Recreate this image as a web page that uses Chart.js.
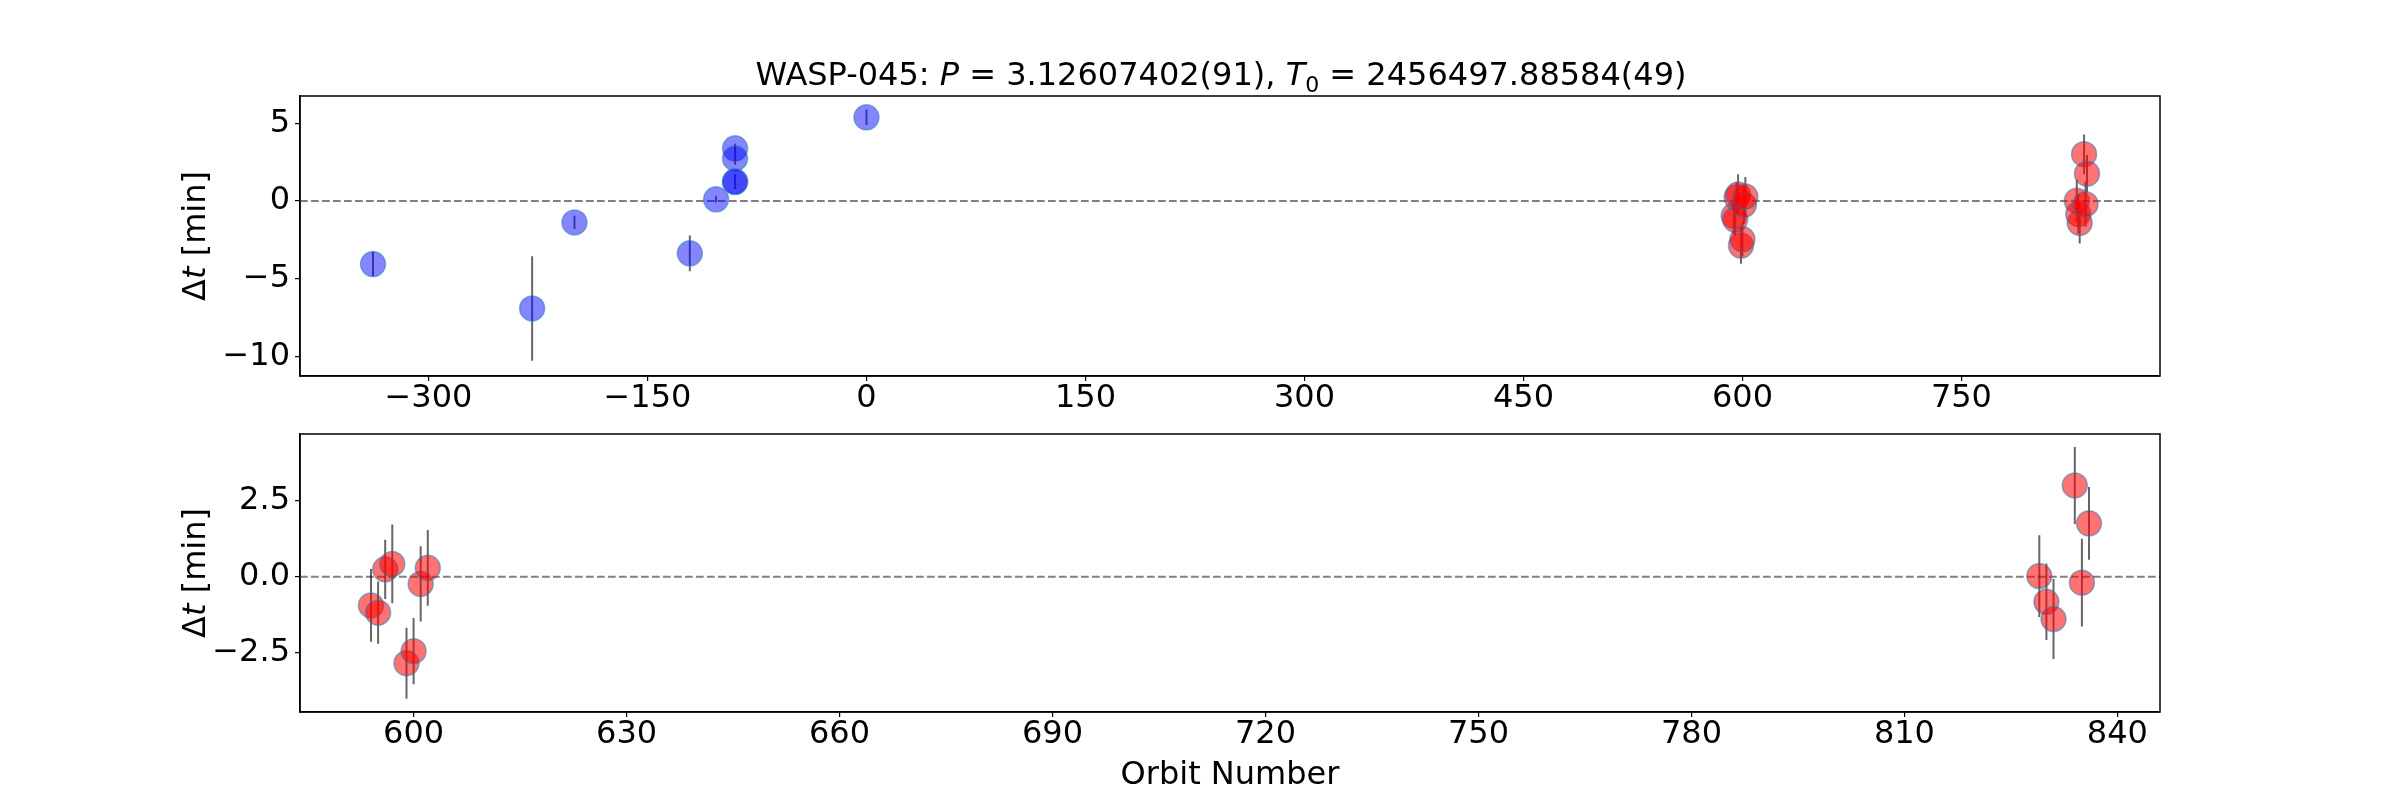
<!DOCTYPE html>
<html>
<head>
<meta charset="utf-8">
<script src="https://cdn.jsdelivr.net/npm/chart.js@4.4.0/dist/chart.umd.min.js"></script>
<style>
  html, body { margin: 0; padding: 0; background: #fff; }
  #wrap { position: relative; width: 2400px; height: 800px; background: #fff; }
  #top { position: absolute; left: 0; top: 0; }
  #bottom { position: absolute; left: 0; top: 420px; }
</style>
</head>
<body>
<div id="wrap">
  <canvas id="top" width="2400" height="420"></canvas>
  <canvas id="bottom" width="2400" height="380"></canvas>
</div>
<script>
// earlier transits (blue)
const blueOrbit = [-338, -229, -200, -121, -103, -90, -90, -90, -90, 0];
const blueDt = [-4.05, -6.9, -1.37, -3.36, 0.11, 3.39, 2.74, 1.27, 1.22, 5.38];
const blueErr = [0.8, 3.36, 0.43, 1.15, 0.2, 0.3, 0.4, 0.45, 0.45, 0.5];

// new transits (red)
const redOrbit = [594, 595, 596, 597, 599, 600, 601, 602, 829, 830, 831, 834, 835, 836];
const redDt = [-0.95, -1.19, 0.24, 0.42, -2.86, -2.46, -0.24, 0.29, 0.02, -0.83, -1.40, 3.01, -0.20, 1.76];
const redErr = [1.2, 1.03, 0.98, 1.3, 1.17, 1.09, 1.24, 1.25, 1.35, 1.26, 1.32, 1.27, 1.45, 1.2];

// ticks
const topOrbitTicks = [-300, -150, 0, 150, 300, 450, 600, 750];
const topDtTicks = [-10, -5, 0, 5];
const bottomOrbitTicks = [600, 630, 660, 690, 720, 750, 780, 810, 840];
const bottomDtTicks = [-2.5, 0, 2.5];

const FONT = 'DejaVu Sans';
const FS = 32;

const fmtInt = v => (v < 0 ? '\u2212' : '') + Math.abs(v);
const fmtOne = v => (v < 0 ? '\u2212' : '') + Math.abs(v).toFixed(1);

function errorSegments(orbit, dt, err) {
  const pts = [];
  for (let i = 0; i < orbit.length; i++) {
    pts.push({ x: orbit[i], y: dt[i] - err[i] });
    pts.push({ x: orbit[i], y: dt[i] + err[i] });
    pts.push({ x: orbit[i], y: null });
  }
  return pts;
}

function points(orbit, dt) {
  return orbit.map((x, i) => ({ x, y: dt[i] }));
}

// draw a line of text made of plain / italic / subscript pieces
function drawRich(ctx, segs, x, y, rotate) {
  ctx.save();
  ctx.translate(x, y);
  if (rotate) ctx.rotate(-Math.PI / 2);
  ctx.fillStyle = '#000';
  ctx.textBaseline = 'alphabetic';
  ctx.textAlign = 'left';
  const fontOf = s => (s.it ? 'italic ' : '') + (s.sub ? Math.round(FS * 0.7) : FS) + 'px "' + FONT + '"';
  let total = 0;
  segs.forEach(s => { ctx.font = fontOf(s); total += ctx.measureText(s.t).width; });
  let cx = -total / 2;
  segs.forEach(s => {
    ctx.font = fontOf(s);
    ctx.fillText(s.t, cx, s.sub ? FS * 0.22 : 0);
    cx += ctx.measureText(s.t).width;
  });
  ctx.restore();
}

const dtLabel = [{ t: 'Δ' }, { t: 't', it: true }, { t: ' [min]' }];

const frame = {
  id: 'frame',
  afterDraw(chart) {
    const { ctx, chartArea: a } = chart;
    ctx.save();
    ctx.strokeStyle = '#000';
    ctx.lineWidth = 1.5;
    ctx.strokeRect(a.left, a.top, a.right - a.left, a.bottom - a.top);
    ctx.restore();
  }
};

function makeScales(xMin, xMax, xTicks, yMin, yMax, yTicks, yFmt, xFmt) {
  const tickFont = { family: FONT, size: FS, lineHeight: 1 };
  return {
    x: {
      type: 'linear', min: xMin, max: xMax,
      afterBuildTicks: s => { s.ticks = xTicks.map(v => ({ value: v })); },
      afterFit: s => { s.height = 40; s.paddingLeft = 0; s.paddingRight = 0; },
      grid: { display: true, drawOnChartArea: false, drawTicks: true, tickLength: 5, color: '#000', lineWidth: 1.2 },
      border: { display: true, color: '#000', width: 1.5 },
      ticks: { font: tickFont, color: '#000', padding: 2, maxRotation: 0, autoSkip: false, callback: xFmt }
    },
    y: {
      type: 'linear', min: yMin, max: yMax,
      afterBuildTicks: s => { s.ticks = yTicks.map(v => ({ value: v })); },
      afterFit: s => { s.width = 100; s.paddingTop = 0; s.paddingBottom = 0; },
      grid: { display: true, drawOnChartArea: false, drawTicks: true, tickLength: 5, color: '#000', lineWidth: 1.2 },
      border: { display: true, color: '#000', width: 1.5 },
      ticks: { font: tickFont, color: '#000', padding: 5, autoSkip: false, callback: yFmt }
    }
  };
}

function zeroLine(xMin, xMax) {
  return {
    data: [{ x: xMin, y: 0 }, { x: xMax, y: 0 }],
    showLine: true, pointRadius: 0, borderColor: '#808080', borderWidth: 2,
    borderDash: [7.7, 3.3], order: 3
  };
}

function errSet(orbit, dt, err) {
  return {
    data: errorSegments(orbit, dt, err),
    showLine: true, spanGaps: false, pointRadius: 0,
    borderColor: 'rgba(0,0,0,0.6)', borderWidth: 2, order: 2
  };
}

function pointSet(orbit, dt, fill) {
  return {
    data: points(orbit, dt),
    pointRadius: 12.5, pointHoverRadius: 12.5,
    backgroundColor: fill, borderColor: 'rgba(31,119,180,0.5)', borderWidth: 1.5, order: 1
  };
}

const baseOpts = {
  responsive: false, animation: false, events: [],
  plugins: { legend: { display: false }, tooltip: { enabled: false }, title: { display: false } }
};

// top panel: all transits
const topXMin = -388, topXMax = 886;
new Chart(document.getElementById('top').getContext('2d'), {
  type: 'scatter',
  data: {
    datasets: [
      pointSet(blueOrbit, blueDt, 'rgba(0,0,255,0.48)'),
      pointSet(redOrbit, redDt, 'rgba(255,0,0,0.55)'),
      errSet(blueOrbit, blueDt, blueErr),
      errSet(redOrbit, redDt, redErr),
      zeroLine(topXMin, topXMax)
    ]
  },
  options: Object.assign({}, baseOpts, {
    layout: { padding: { left: 200, right: 240, top: 96, bottom: 4 } },
    scales: makeScales(topXMin, topXMax, topOrbitTicks, -11.24, 6.75, topDtTicks, fmtInt, fmtInt)
  }),
  plugins: [frame, {
    id: 'labelsTop',
    afterDraw(chart) {
      const { ctx, chartArea: a } = chart;
      drawRich(ctx, [
        { t: 'WASP-045: ' }, { t: 'P', it: true }, { t: ' = 3.12607402(91), ' },
        { t: 'T', it: true }, { t: '0', sub: true }, { t: ' = 2456497.88584(49)' }
      ], (a.left + a.right) / 2 - 9, 85, false);
      drawRich(ctx, dtLabel, 205, (a.top + a.bottom) / 2, true);
    }
  }]
});

// bottom panel: new transits only
const botXMin = 584, botXMax = 846;
new Chart(document.getElementById('bottom').getContext('2d'), {
  type: 'scatter',
  data: {
    datasets: [
      pointSet(redOrbit, redDt, 'rgba(255,0,0,0.55)'),
      errSet(redOrbit, redDt, redErr),
      zeroLine(botXMin, botXMax)
    ]
  },
  options: Object.assign({}, baseOpts, {
    layout: { padding: { left: 200, right: 240, top: 12, bottom: 48 } },
    scales: makeScales(botXMin, botXMax, bottomOrbitTicks, -4.47, 4.71, bottomDtTicks, fmtOne, fmtInt)
  }),
  plugins: [frame, {
    id: 'labelsBottom',
    afterDraw(chart) {
      const { ctx, chartArea: a } = chart;
      drawRich(ctx, dtLabel, 205, (a.top + a.bottom) / 2, true);
      drawRich(ctx, [{ t: 'Orbit Number' }], (a.left + a.right) / 2, 364, false);
    }
  }]
});
</script>
</body>
</html>
